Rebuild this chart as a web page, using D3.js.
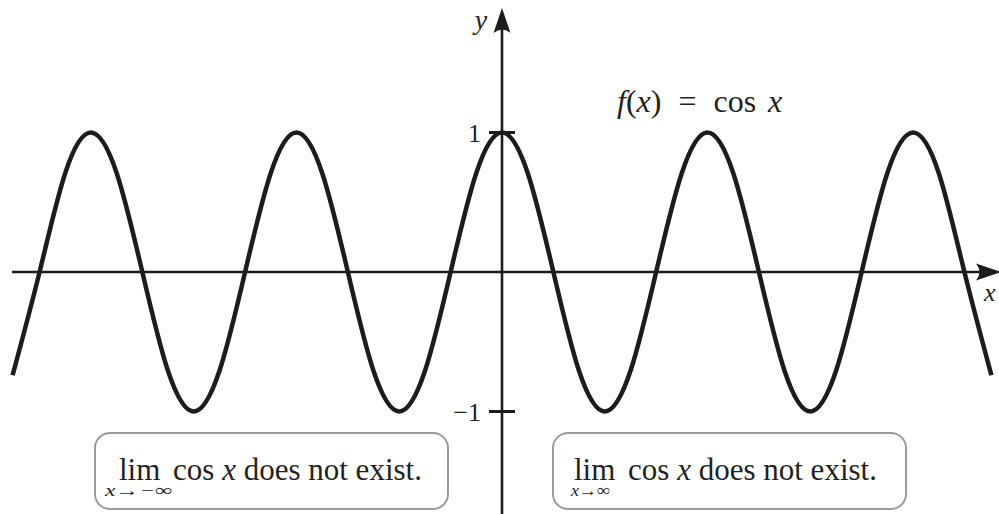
<!DOCTYPE html>
<html>
<head>
<meta charset="utf-8">
<script src="https://cdn.jsdelivr.net/npm/d3@7"></script>
<style>
  html, body { margin: 0; padding: 0; background: #fff; }
  svg { display: block; }
  text { font-family: 'Liberation Serif', 'Times New Roman', serif; fill: #231f20; }
</style>
</head>
<body>
<svg width="999" height="514"></svg>
<script>
// x is measured in steps of pi/4, y is cos x
const xSteps = [-19.05,
  -18, -17, -16, -15, -14, -13, -12, -11, -10, -9, -8, -7, -6, -5, -4, -3, -2, -1,
  0,
  1, 2, 3, 4, 5, 6, 7, 8, 9, 10, 11, 12, 13, 14, 15, 16, 17, 18,
  19.05];
const cosValues = [-0.74,
  0, 0.71, 1, 0.71, 0, -0.71, -1, -0.71, 0, 0.71, 1, 0.71, 0, -0.71, -1, -0.71, 0, 0.71,
  1,
  0.71, 0, -0.71, -1, -0.71, 0, 0.71, 1, 0.71, 0, -0.71, -1, -0.71, 0, 0.71, 1, 0.71, 0,
  -0.74];
const yTicks = [1, -1];
const yTickLabels = ['1', '\u22121'];
const limitSubs = ['x\u2192\u2212\u221e', 'x\u2192\u221e'];

function whenLoaded(){
    const svg = d3.select('svg');
    const ink = '#1c1c1c';

    const xScale = d3.scaleLinear()
        .domain([-19.05, 19.05])
        .range([12.6, 991.4]);

    const yScale = d3.scaleLinear()
        .domain([-1, 1])
        .range([411.5, 132.5]);

    const x0 = xScale(0);
    const y0 = yScale(0);

    // axes
    svg.append('line')
        .attr('x1', 12).attr('x2', 990)
        .attr('y1', y0).attr('y2', y0)
        .attr('stroke', ink).attr('stroke-width', 2.6);

    svg.append('line')
        .attr('x1', x0).attr('x2', x0)
        .attr('y1', 28).attr('y2', 514)
        .attr('stroke', ink).attr('stroke-width', 2.6);

    // arrow heads
    svg.append('path')
        .attr('d', `M${x0},8 L${x0 + 8.5},33 Q${x0},26 ${x0 - 8.5},33 Z`)
        .attr('fill', ink);
    svg.append('path')
        .attr('d', `M1001,${y0} L976,${y0 - 8.5} Q983,${y0} 976,${y0 + 8.5} Z`)
        .attr('fill', ink);

    svg.append('text')
        .attr('x', 481).attr('y', 29)
        .attr('text-anchor', 'middle')
        .attr('font-size', 28)
        .attr('font-style', 'italic')
        .text('y');
    svg.append('text')
        .attr('x', 984).attr('y', 301)
        .attr('font-size', 26)
        .attr('font-style', 'italic')
        .text('x');

    // y ticks
    svg.selectAll('.tick').data(yTicks)
        .enter().append('line')
        .attr('class', 'tick')
        .attr('x1', x0 - 13).attr('x2', x0 + 13)
        .attr('y1', d => yScale(d)).attr('y2', d => yScale(d))
        .attr('stroke', ink).attr('stroke-width', 3);

    svg.selectAll('.tick-label').data(yTicks)
        .enter().append('text')
        .attr('class', 'tick-label')
        .attr('x', 481)
        .attr('y', d => yScale(d) + 9)
        .attr('text-anchor', 'end')
        .attr('font-size', 26)
        .text((d, i) => yTickLabels[i]);

    // cos curve
    const points = xSteps.map((d, i) => [d, cosValues[i]]);
    const line = d3.line()
        .x(d => xScale(d[0]))
        .y(d => yScale(d[1]))
        .curve(d3.curveNatural);

    svg.append('path')
        .datum(points)
        .attr('d', line)
        .attr('fill', 'none')
        .attr('stroke', ink)
        .attr('stroke-width', 4.5);

    // title, with math spacing
    const title = svg.append('text')
        .attr('x', 617).attr('y', 112)
        .attr('font-size', 32);
    title.append('tspan').attr('font-style', 'italic').text('f');
    title.append('tspan').text('(');
    title.append('tspan').attr('font-style', 'italic').text('x');
    title.append('tspan').text(')');
    title.append('tspan').attr('dx', 17).text('=');
    title.append('tspan').attr('dx', 17).text('cos');
    title.append('tspan').attr('dx', 12).attr('font-style', 'italic').text('x');

    // limit boxes
    const boxes = [
        {x: 95, sub: limitSubs[0], subX: 10, subW: 67, limX: 24},
        {x: 553, sub: limitSubs[1], subX: 18, subW: 39, limX: 21}
    ];
    boxes.forEach(b => {
        const g = svg.append('g').attr('transform', `translate(${b.x},433)`);
        g.append('rect')
            .attr('width', 353).attr('height', 76)
            .attr('rx', 15).attr('ry', 15)
            .attr('fill', '#fff')
            .attr('stroke', '#9a9a9a')
            .attr('stroke-width', 2);
        const t = g.append('text')
            .attr('x', b.limX).attr('y', 47)
            .attr('font-size', 31);
        t.append('tspan').text('lim');
        t.append('tspan').attr('dx', 5).text(' cos ');
        t.append('tspan').attr('font-style', 'italic').text('x');
        t.append('tspan').text(' does not exist.');
        g.append('text')
            .attr('x', b.subX).attr('y', 63)
            .attr('font-size', 17)
            .attr('font-style', 'italic')
            .attr('textLength', b.subW)
            .attr('lengthAdjust', 'spacingAndGlyphs')
            .text(b.sub);
    });
}

window.onload = whenLoaded;
</script>
</body>
</html>
